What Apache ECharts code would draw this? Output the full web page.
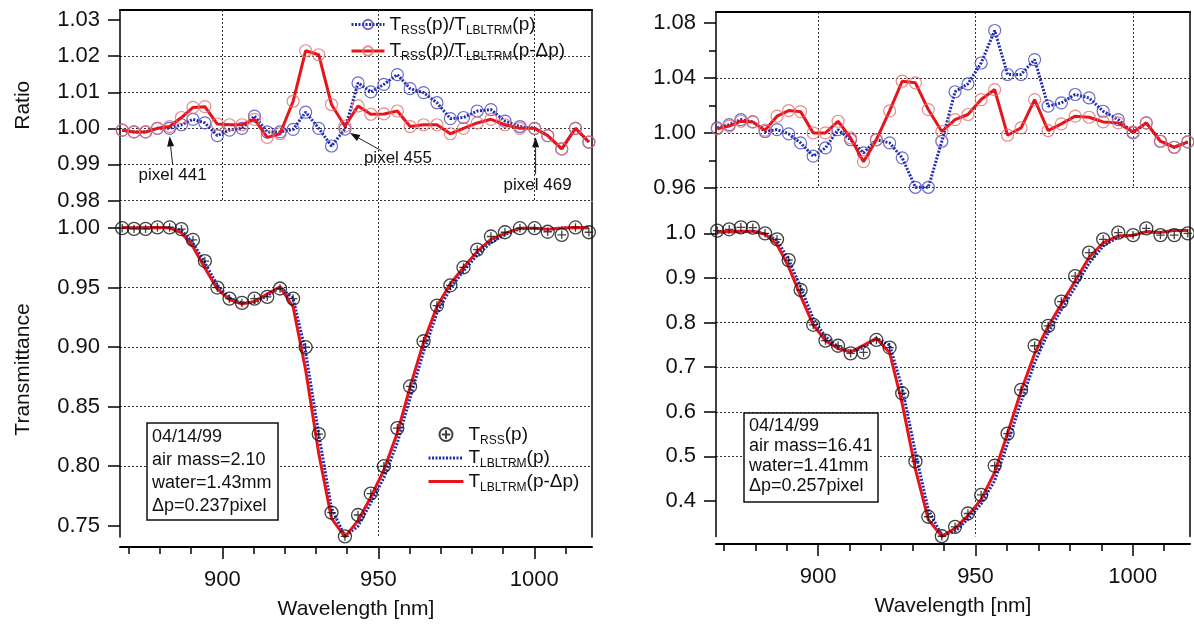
<!DOCTYPE html>
<html>
<head>
<meta charset="UTF-8">
<title>RSS / LBLTRM transmittance</title>
<script src="https://cdn.jsdelivr.net/npm/echarts@6/dist/echarts.min.js"></script>
<style>
  html, body { margin: 0; padding: 0; background: #fff; }
  #chart { width: 1194px; height: 625px; }
</style>
</head>
<body>
<div id="chart"></div>
<script>
// wavelength of RSS pixels 437..473 (nm)
const wavelength = [867.9, 871.7, 875.4, 879.2, 883.1, 886.9, 890.6, 894.4, 898.4, 902.3, 906.3, 910.3, 914.4, 918.5, 922.7, 926.7, 930.9, 935.0, 939.3, 943.5, 947.6, 951.8, 956.1, 960.2, 964.5, 968.8, 973.1, 977.3, 981.7, 986.1, 990.6, 995.4, 1000.1, 1004.3, 1008.8, 1013.2, 1017.5];
const firstPixel = 437;
const markedPixels = [441, 455, 469];

// left panel (air mass 2.10)
const leftRatio = [0.9995, 0.999, 0.999, 1.000, 1.000, 1.001, 1.0025, 1.0015, 0.998, 0.9995, 1.000, 1.0034, 0.999, 0.999, 0.9997, 1.0045, 1.000, 0.9951, 0.9998, 1.0126, 1.0101, 1.0122, 1.0149, 1.011, 1.0099, 1.0071, 1.0027, 1.003, 1.0048, 1.0052, 1.002, 1.0005, 1.000, 0.998, 0.9943, 1.000, 0.9962];
const leftRatioShift = [0.9995, 0.999, 0.999, 1.000, 1.0005, 1.003, 1.0058, 1.006, 1.0012, 1.001, 1.001, 1.0025, 0.9975, 0.9985, 1.0075, 1.0215, 1.0204, 1.0066, 1.0006, 1.0062, 1.0039, 1.004, 1.0048, 1.0005, 1.001, 1.001, 0.9985, 1.000, 1.0015, 1.0025, 1.001, 1.000, 1.000, 0.998, 0.9943, 1.000, 0.9962];
const leftRss = [1.000, 0.9994, 0.9994, 1.0006, 1.0006, 0.9992, 0.9901, 0.9724, 0.9501, 0.9408, 0.9372, 0.9408, 0.9423, 0.9493, 0.9408, 0.900, 0.827, 0.761, 0.741, 0.759, 0.777, 0.800, 0.832, 0.867, 0.905, 0.935, 0.952, 0.967, 0.982, 0.993, 0.9966, 1.000, 1.000, 0.997, 0.9944, 1.0006, 0.9966];
const leftLbl = [1.0005, 1.0004, 1.0004, 1.0006, 1.0006, 0.9982, 0.9876, 0.9709, 0.9520, 0.9413, 0.9372, 0.9376, 0.9432, 0.9503, 0.9411, 0.8960, 0.8270, 0.7647, 0.7411, 0.7496, 0.7692, 0.7904, 0.8198, 0.8576, 0.8961, 0.9284, 0.9494, 0.9641, 0.9773, 0.9879, 0.9946, 0.9995, 1.000, 0.999, 1.0001, 1.0006, 1.0004];
const leftLblShift = [1.0005, 1.0004, 1.0004, 1.0006, 1.0001, 0.9962, 0.9844, 0.9666, 0.9490, 0.9399, 0.9363, 0.9385, 0.9447, 0.9507, 0.9338, 0.8811, 0.8108, 0.7561, 0.7406, 0.7543, 0.7740, 0.7968, 0.8280, 0.8666, 0.9041, 0.9341, 0.9534, 0.9670, 0.9805, 0.9905, 0.9956, 1.000, 1.000, 0.999, 1.0001, 1.0006, 1.0004];

// right panel (air mass 16.41)
const rightRatio = [1.0036, 1.006, 1.0097, 1.008, 1.001, 1.0024, 0.9993, 0.9927, 0.983, 0.989, 1.0024, 0.995, 0.9854, 0.995, 0.9927, 0.9818, 0.9603, 0.9603, 0.9939, 1.030, 1.0358, 1.051, 1.0747, 1.0426, 1.0426, 1.0535, 1.0195, 1.0219, 1.028, 1.0255, 1.0158, 1.0097, 1.000, 1.0073, 0.9939, 0.9895, 0.9934];
const rightRatioShift = [1.003, 1.005, 1.0085, 1.008, 1.002, 1.0122, 1.0163, 1.0155, 1.000, 1.000, 1.0085, 0.9963, 0.979, 0.995, 1.016, 1.0377, 1.0365, 1.017, 1.001, 1.0097, 1.0134, 1.0243, 1.0316, 0.9983, 1.0036, 1.0243, 1.0017, 1.0066, 1.0122, 1.0114, 1.008, 1.0073, 1.0007, 1.0073, 0.9939, 0.9895, 0.9934];
const rightRss = [1.006, 1.009, 1.0134, 1.0127, 1.000, 0.9866, 0.940, 0.873, 0.795, 0.7595, 0.748, 0.731, 0.733, 0.761, 0.744, 0.6415, 0.4887, 0.3647, 0.321, 0.342, 0.372, 0.4135, 0.479, 0.551, 0.649, 0.748, 0.7924, 0.847, 0.904, 0.9567, 0.9866, 1.0015, 0.996, 1.011, 0.996, 0.996, 1.000];
const rightLbl = [1.0024, 1.003, 1.0037, 1.0047, 0.999, 0.9842, 0.9407, 0.8794, 0.8087, 0.7679, 0.7462, 0.7347, 0.7439, 0.7648, 0.7495, 0.6534, 0.5089, 0.3798, 0.323, 0.332, 0.3591, 0.3934, 0.4457, 0.5285, 0.6225, 0.71, 0.7772, 0.8288, 0.8794, 0.9329, 0.9713, 0.9919, 0.996, 1.0037, 1.0021, 1.0066, 1.0066];
const rightLblShift = [1.003, 1.004, 1.0048, 1.0047, 0.998, 0.9747, 0.9249, 0.8597, 0.795, 0.7595, 0.7417, 0.7337, 0.7487, 0.7648, 0.7323, 0.6182, 0.4715, 0.3586, 0.3207, 0.3387, 0.3671, 0.4037, 0.4643, 0.5519, 0.6467, 0.7303, 0.7911, 0.8414, 0.8931, 0.9459, 0.9788, 0.9943, 0.9953, 1.0037, 1.0021, 1.0066, 1.0066];

// tick labels
const wlTicks = [900, 950, 1000];
const leftRatioTicks = [0.98, 0.99, 1.00, 1.01, 1.02, 1.03];
const leftTransTicks = [0.75, 0.80, 0.85, 0.90, 0.95, 1.00];
const rightRatioTicks = [0.96, 1.00, 1.04, 1.08];
const rightTransTicks = [0.4, 0.5, 0.6, 0.7, 0.8, 0.9, 1.0];

const leftNote = ['04/14/99', 'air mass=2.10', 'water=1.43mm', 'Δp=0.237pixel'];
const rightNote = ['04/14/99', 'air mass=16.41', 'water=1.41mm', 'Δp=0.257pixel'];

const legendText = {
  ratio: '{m|T}{s|RSS}{m|(p)/T}{s|LBLTRM}{m|(p)}',
  ratioShift: '{m|T}{s|RSS}{m|(p)/T}{s|LBLTRM}{m|(p-Δp)}',
  rss: '{m|T}{s|RSS}{m|(p)}',
  lbl: '{m|T}{s|LBLTRM}{m|(p)}',
  lblShift: '{m|T}{s|LBLTRM}{m|(p-Δp)}'
};

const FONT = '"Liberation Sans", Arial, Helvetica, sans-serif';
const BLUE = '#1f2db4';
const RED = '#e8141c';
const CLEAR = 'rgba(0,0,0,0)';
const GRIDLINE = { color: '#333', width: 1, type: [2, 2] };
const RSS_SYMBOL = 'path://M2,12A10,10 0 1 1 22,12A10,10 0 1 1 2,12Z M12,5.5L12,18.5 M5.5,12L18.5,12';

const pairs = arr => wavelength.map((w, i) => [w, arr[i]]);
const inList = (list, v) => list.some(t => Math.abs(t - v) < 1e-6);

function xAxisFor(gridIndex, range, bottom, offset) {
  return {
    gridIndex, type: 'value', min: range[0], max: range[1], splitNumber: 3,
    position: bottom ? 'bottom' : 'top', offset: offset || 0,
    axisLine: { show: true, onZero: false, lineStyle: { color: '#000', width: 2 } },
    axisTick: bottom ? { show: true, length: 12, customValues: wlTicks, lineStyle: { color: '#000', width: 1.5 } } : { show: false },
    minorTick: bottom ? { show: true, splitNumber: 5, length: 7, lineStyle: { color: '#000', width: 1.5 } } : { show: false },
    axisLabel: bottom ? {
      show: true, customValues: wlTicks, margin: 22, color: '#111', fontSize: 22, fontFamily: FONT,
      formatter: v => inList(wlTicks, v) ? String(Math.round(v)) : ''
    } : { show: false },
    splitLine: { show: true, showMinLine: false, showMaxLine: false, lineStyle: GRIDLINE },
    name: bottom ? 'Wavelength [nm]' : '', nameLocation: 'middle', nameGap: 52,
    nameTextStyle: { fontSize: 21, color: '#111', fontFamily: FONT }
  };
}

function yAxisFor(gridIndex, o) {
  return {
    gridIndex, type: 'value', min: o.min, max: o.max, interval: o.interval, splitNumber: o.splitNumber,
    axisLine: { show: true, onZero: false, lineStyle: { color: '#000', width: 1.5 } },
    axisTick: { show: true, length: 12, customValues: o.ticks, lineStyle: { color: '#000', width: 1.5 } },
    minorTick: { show: !!o.minor, splitNumber: 2, length: 7, lineStyle: { color: '#000', width: 1.5 } },
    axisLabel: {
      customValues: o.ticks, margin: 20, color: '#111', fontSize: 22, fontFamily: FONT,
      formatter: v => inList(o.ticks, v) ? v.toFixed(o.decimals) : ''
    },
    splitLine: { show: true, showMinLine: o.minLine, showMaxLine: false, lineStyle: GRIDLINE },
    name: o.name || '', nameLocation: 'middle', nameGap: 86,
    nameTextStyle: { fontSize: 21, color: '#111', fontFamily: FONT }
  };
}

function frameAxis(gridIndex) {
  return {
    gridIndex, type: 'value', position: 'right', min: 0, max: 1,
    axisLine: { show: true, onZero: false, lineStyle: { color: '#000', width: 1.5 } },
    axisTick: { show: false }, axisLabel: { show: false }, splitLine: { show: false }
  };
}

function ratioSeries(name, gridIndex, data, color, dotted, ring) {
  return {
    type: 'line', name, xAxisIndex: gridIndex, yAxisIndex: gridIndex, data: pairs(data),
    symbol: 'circle', symbolSize: 12, showSymbol: true, clip: false,
    itemStyle: { color: CLEAR, borderColor: ring, borderWidth: 1.2 },
    lineStyle: { color, width: 3, type: dotted ? [2, 1.5] : 'solid' },
    emphasis: { disabled: true }, z: dotted ? 2 : 3
  };
}

function transSeries(name, gridIndex, data, color, dotted) {
  return {
    type: 'line', name, xAxisIndex: gridIndex, yAxisIndex: gridIndex, data: pairs(data),
    symbol: 'none', clip: false,
    itemStyle: { color: CLEAR, borderWidth: 0 },
    lineStyle: { color, width: 3, type: dotted ? [2, 1.5] : 'solid' },
    emphasis: { disabled: true }, z: dotted ? 2 : 3
  };
}

function rssSeries(gridIndex, data) {
  return {
    type: 'scatter', name: 'rss', xAxisIndex: gridIndex, yAxisIndex: gridIndex, data: pairs(data),
    symbol: RSS_SYMBOL, symbolSize: 13, clip: false,
    itemStyle: { color: CLEAR, borderColor: '#111', borderWidth: 1.3 },
    emphasis: { disabled: true }, z: 4
  };
}

const richText = {
  m: { fontSize: 19, fontFamily: FONT, color: '#111', lineHeight: 24 },
  s: { fontSize: 12, fontFamily: FONT, color: '#111', verticalAlign: 'bottom', lineHeight: 14 }
};

const chart = echarts.init(document.getElementById('chart'));

const option = {
  animation: false,
  backgroundColor: '#fff',
  grid: [
    { left: 120, top: 10, width: 472, height: 190.5 },
    { left: 120, top: 202, width: 472, height: 336 },
    { left: 716, top: 12, width: 474, height: 175.7 },
    { left: 716, top: 188, width: 474, height: 348.5 }
  ],
  xAxis: [
    xAxisFor(0, [867.2, 1018.5], false),
    xAxisFor(1, [867.2, 1018.5], true, 10),
    xAxisFor(2, [867.5, 1018.2], false),
    xAxisFor(3, [867.5, 1018.2], true, 7.5)
  ],
  yAxis: [
    yAxisFor(0, { min: 0.98, max: 1.0328, interval: 0.01, ticks: leftRatioTicks, decimals: 2, minLine: true, name: 'Ratio' }),
    yAxisFor(1, { min: 0.7405, max: 1.022, splitNumber: 6, ticks: leftTransTicks, decimals: 2, minLine: false, name: 'Transmittance' }),
    yAxisFor(2, { min: 0.96, max: 1.0882, interval: 0.04, ticks: rightRatioTicks, decimals: 2, minLine: true, minor: true }),
    yAxisFor(3, { min: 0.3204, max: 1.1016, splitNumber: 8, ticks: rightTransTicks, decimals: 1, minLine: false }),
    frameAxis(0), frameAxis(1), frameAxis(2), frameAxis(3)
  ],
  legend: [
    {
      data: ['ratio', 'ratioShift'], orient: 'vertical', left: 350, top: 15, padding: 0,
      itemWidth: 33, itemHeight: 12, itemGap: 5, selectedMode: false,
      lineStyle: { width: 3 }, formatter: n => legendText[n], textStyle: { rich: richText }
    },
    {
      data: ['rss', 'lbl', 'lblShift'], orient: 'vertical', left: 427, top: 425, padding: 0,
      itemWidth: 35, itemHeight: 13, itemGap: 2, selectedMode: false,
      lineStyle: { width: 3 }, formatter: n => legendText[n], textStyle: { rich: richText }
    }
  ],
  series: [
    ratioSeries('ratio', 0, leftRatio, BLUE, true, 'rgba(70,70,190,0.8)'),
    ratioSeries('ratioShift', 0, leftRatioShift, RED, false, 'rgba(228,110,110,0.8)'),
    transSeries('lbl', 1, leftLbl, BLUE, true),
    transSeries('lblShift', 1, leftLblShift, RED, false),
    rssSeries(1, leftRss),
    ratioSeries('ratio', 2, rightRatio, BLUE, true, 'rgba(70,70,190,0.8)'),
    ratioSeries('ratioShift', 2, rightRatioShift, RED, false, 'rgba(228,110,110,0.8)'),
    transSeries('lbl', 3, rightLbl, BLUE, true),
    transSeries('lblShift', 3, rightLblShift, RED, false),
    rssSeries(3, rightRss)
  ]
};
chart.setOption(option);

// annotations: arrows pointing to marked pixels, and the info boxes
function arrow(tip, tail) {
  const dx = tip[0] - tail[0], dy = tip[1] - tail[1];
  const len = Math.sqrt(dx * dx + dy * dy);
  const ux = dx / len, uy = dy / len;
  const bx = tip[0] - ux * 10, by = tip[1] - uy * 10;
  return [
    { type: 'line', shape: { x1: tail[0], y1: tail[1], x2: bx, y2: by }, style: { stroke: '#222', lineWidth: 1 }, z: 10 },
    { type: 'polygon', shape: { points: [tip, [bx - uy * 3.5, by + ux * 3.5], [bx + uy * 3.5, by - ux * 3.5]] }, style: { fill: '#111' }, z: 10 }
  ];
}

const arrowOffsets = {
  441: { tip: [0, 8], tail: [3, 36], text: [3, 47] },
  455: { tip: [5, 4], tail: [37, 22], text: [53, 29] },
  469: { tip: [1, 9], tail: [1, 46], text: [3, 57] }
};

const graphics = [];
markedPixels.forEach(p => {
  const i = p - firstPixel;
  const pt = chart.convertToPixel({ gridIndex: 0 }, [wavelength[i], leftRatio[i]]);
  const o = arrowOffsets[p];
  graphics.push(...arrow([pt[0] + o.tip[0], pt[1] + o.tip[1]], [pt[0] + o.tail[0], pt[1] + o.tail[1]]));
  graphics.push({
    type: 'text', x: pt[0] + o.text[0], y: pt[1] + o.text[1], z: 10,
    style: { text: 'pixel ' + p, font: '17px ' + FONT, fill: '#111', align: 'center', verticalAlign: 'middle' }
  });
});

function noteBox(x, y, w, h, lines, lineHeight) {
  return {
    type: 'group', x, y, z: 20,
    children: [
      { type: 'rect', shape: { x: 0, y: 0, width: w, height: h }, style: { fill: '#fff', stroke: '#111', lineWidth: 1.5 } },
      { type: 'text', x: 5, y: 3, style: { text: lines.join('\n'), font: '18px ' + FONT, lineHeight, fill: '#111' } }
    ]
  };
}
graphics.push(noteBox(147, 423, 131, 97, leftNote, 23));
graphics.push(noteBox(744, 413, 134, 89, rightNote, 20));

chart.setOption({ graphic: graphics });
</script>
</body>
</html>
